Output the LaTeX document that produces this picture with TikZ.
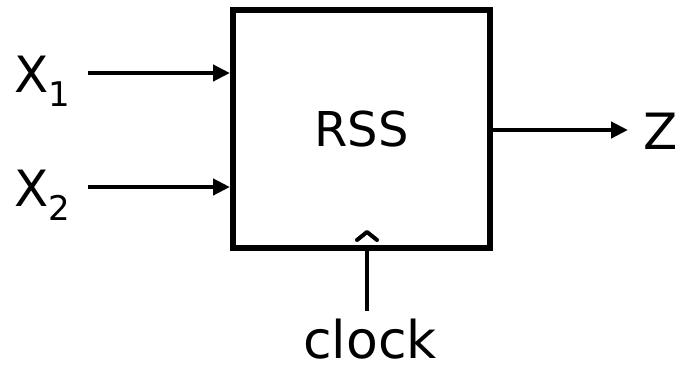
\documentclass[tikz,border=0pt]{standalone}
\usepackage{fontspec}
\setmainfont{DejaVu Sans}
\usetikzlibrary{arrows.meta}
\newcommand{\lowsub}[1]{\raisebox{-14pt}{\fontsize{34}{34}\selectfont #1}}
\tikzset{
  lbl/.style={inner sep=0pt,font=\fontsize{50}{50}\selectfont},
  sig/.style={line width=4.5pt,-{Triangle[length=17pt,width=16pt]}}
}
\begin{document}
\begin{tikzpicture}[x=1pt,y=-1pt]
  \useasboundingbox (0,0) rectangle (685,364);
  \node[draw,line width=6pt,minimum width=257pt,minimum height=238pt,
        font=\fontsize{48}{48}\selectfont] (rss) at (361.5,129) {RSS};
  % inputs
  \foreach \i/\y in {1/73,2/187}{
    \pgfmathsetmacro{\yb}{\y+19}
    \node[lbl,anchor=base west] (x\i) at (14,\yb) {X\lowsub{\i}};
    \coordinate (in\i) at (88,\y);
    \draw[sig] (in\i) -- (in\i -| rss.west);
  }
  % output
  \coordinate (out) at (628,130);
  \draw[sig] (out -| rss.east) -- (out);
  \node[lbl] (z) at (661,131) {Z};
  % clock
  \node[lbl,anchor=base,font=\fontsize{52}{52}\selectfont] (clk) at (370,358) {clock};
  \draw[line width=4.5pt] (367,311) -- (rss.south -| 367,0);
  \draw[line width=4pt,line cap=round,line join=round] (357,240) -- (367,232) -- (377,240);
\end{tikzpicture}
\end{document}
